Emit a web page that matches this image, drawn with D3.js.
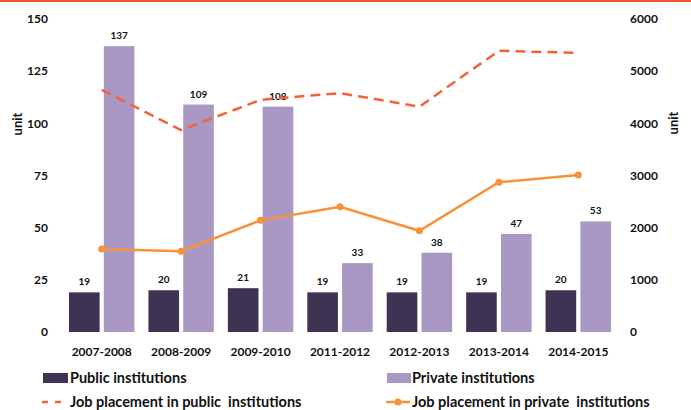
<!DOCTYPE html>
<html>
<head>
<meta charset="utf-8">
<script src="https://cdn.jsdelivr.net/npm/d3@7"></script>
<style>
  body { margin: 0; background: #fff; }
  text { font-family: Lato, "Open Sans", sans-serif; font-weight: bold; fill: #111; }
</style>
</head>
<body>
<script>
// chart values
var years = ["2007-2008", "2008-2009", "2009-2010", "2011-2012", "2012-2013", "2013-2014", "2014-2015"];
var publicInst = [19, 20, 21, 19, 19, 19, 20];
var privateInst = [137, 109, 108, 33, 38, 47, 53];
var publicJobs = [4640, 3870, 4450, 4580, 4320, 5390, 5350];
var privateJobs = [1590, 1550, 2140, 2400, 1940, 2870, 3010];
var leftTicks = [0, 25, 50, 75, 100, 125, 150];
var rightTicks = [0, 1000, 2000, 3000, 4000, 5000, 6000];

var width = 691;
var height = 410;

var svg = d3.select("body").append("svg")
    .attr("width", width)
    .attr("height", height);

// orange rule along the top
svg.append("rect")
    .attr("x", 0).attr("y", 0)
    .attr("width", width).attr("height", 2)
    .attr("fill", "#f05a28");

var x = d3.scaleBand()
    .domain(years)
    .range([62, 618]);

var inner = d3.scaleBand()
    .domain(["pub", "priv"])
    .range([7, x.bandwidth() - 7])
    .paddingInner(0.12);

var yL = d3.scaleLinear().domain([0, 150]).range([332, 19]);
var yR = d3.scaleLinear().domain([0, 6000]).range([332, 19]);

// left axis labels
svg.append("g").selectAll("text")
    .data(leftTicks)
  .enter().append("text")
    .attr("x", 48)
    .attr("y", function(d) { return yL(d); })
    .attr("dy", "0.35em")
    .attr("text-anchor", "end")
    .style("font-size", "12px")
    .text(function(d) { return d; });

// right axis labels
svg.append("g").selectAll("text")
    .data(rightTicks)
  .enter().append("text")
    .attr("x", 630)
    .attr("y", function(d) { return yR(d); })
    .attr("dy", "0.35em")
    .style("font-size", "12px")
    .text(function(d) { return d; });

svg.append("text")
    .attr("transform", "translate(22,124) rotate(-90)")
    .attr("text-anchor", "middle")
    .style("font-size", "13px")
    .text("unit");

svg.append("text")
    .attr("transform", "translate(678,123) rotate(-90)")
    .attr("text-anchor", "middle")
    .style("font-size", "13px")
    .text("unit");

// x labels
svg.append("g").selectAll("text")
    .data(years)
  .enter().append("text")
    .attr("x", function(d) { return x(d) + x.bandwidth() / 2; })
    .attr("y", 356)
    .attr("text-anchor", "middle")
    .style("font-size", "12px")
    .text(function(d) { return d; });

// bars
var groups = svg.append("g").selectAll("g")
    .data(years)
  .enter().append("g")
    .attr("transform", function(d) { return "translate(" + x(d) + ",0)"; });

groups.append("rect")
    .attr("x", inner("pub"))
    .attr("width", inner.bandwidth())
    .attr("y", function(d, i) { return yL(publicInst[i]); })
    .attr("height", function(d, i) { return yL(0) - yL(publicInst[i]); })
    .attr("fill", "#3f3354");

groups.append("rect")
    .attr("x", inner("priv"))
    .attr("width", inner.bandwidth())
    .attr("y", function(d, i) { return yL(privateInst[i]); })
    .attr("height", function(d, i) { return yL(0) - yL(privateInst[i]); })
    .attr("fill", "#a998c3");

groups.append("text")
    .attr("x", inner("pub") + inner.bandwidth() / 2)
    .attr("y", function(d, i) { return yL(publicInst[i]) - 7; })
    .attr("text-anchor", "middle")
    .style("font-size", "10px")
    .text(function(d, i) { return publicInst[i]; });

groups.append("text")
    .attr("x", inner("priv") + inner.bandwidth() / 2)
    .attr("y", function(d, i) { return yL(privateInst[i]) - 7; })
    .attr("text-anchor", "middle")
    .style("font-size", "10px")
    .text(function(d, i) { return privateInst[i]; });

// lines
var cx = function(i) { return x(years[i]) + x.bandwidth() / 2; };

var line = d3.line()
    .x(function(d, i) { return cx(i); })
    .y(function(d) { return yR(d); });

svg.append("path")
    .datum(publicJobs)
    .attr("d", line)
    .attr("fill", "none")
    .attr("stroke", "#f5623a")
    .attr("stroke-width", 2.5)
    .attr("stroke-linejoin", "round")
    .attr("stroke-dasharray", "10,6");

svg.append("path")
    .datum(privateJobs)
    .attr("d", line)
    .attr("fill", "none")
    .attr("stroke", "#f7923a")
    .attr("stroke-width", 2.5);

svg.append("g").selectAll("circle")
    .data(privateJobs)
  .enter().append("circle")
    .attr("cx", function(d, i) { return cx(i); })
    .attr("cy", function(d) { return yR(d); })
    .attr("r", 3.5)
    .attr("fill", "#f7923a");

// legend
var leg = svg.append("g");
leg.append("rect").attr("x", 43).attr("y", 373).attr("width", 25).attr("height", 10).attr("fill", "#3f3354");
leg.append("text").attr("x", 70).attr("y", 383).style("font-size", "14.5px").text("Public institutions");

leg.append("rect").attr("x", 387).attr("y", 373).attr("width", 24).attr("height", 10).attr("fill", "#a998c3");
leg.append("text").attr("x", 412).attr("y", 383).style("font-size", "14.5px").text("Private institutions");

leg.append("line").attr("x1", 42).attr("x2", 68).attr("y1", 402).attr("y2", 402)
    .attr("stroke", "#f5623a").attr("stroke-width", 2.5).attr("stroke-dasharray", "6,7");
leg.append("text").attr("x", 70).attr("y", 407).style("font-size", "14.5px").text("Job placement in public  institutions")
    .style("white-space", "pre");

leg.append("line").attr("x1", 386).attr("x2", 410).attr("y1", 402).attr("y2", 402)
    .attr("stroke", "#f7923a").attr("stroke-width", 2.5);
leg.append("circle").attr("cx", 398).attr("cy", 402).attr("r", 3.5).attr("fill", "#f7923a");
leg.append("text").attr("x", 412).attr("y", 407).style("font-size", "14.5px").text("Job placement in private  institutions")
    .style("white-space", "pre");
</script>
</body>
</html>
